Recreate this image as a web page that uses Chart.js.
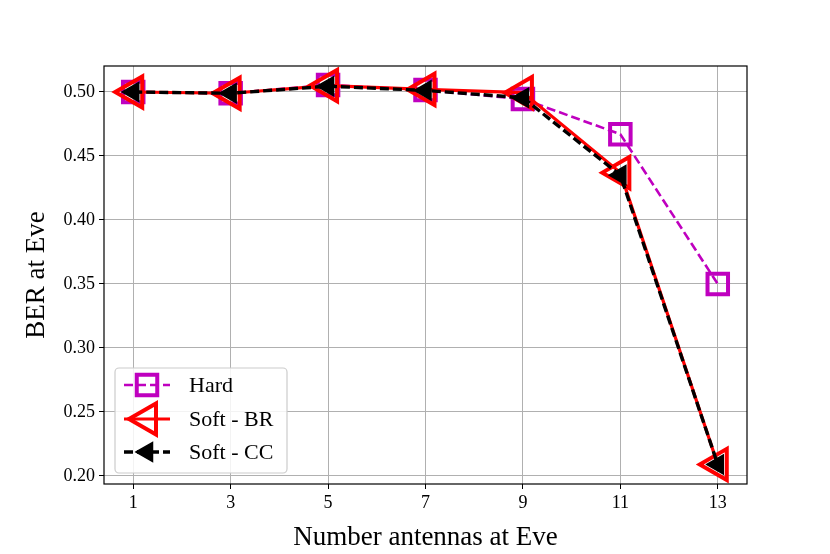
<!DOCTYPE html>
<html>
<head>
<meta charset="utf-8">
<script src="https://cdn.jsdelivr.net/npm/chart.js@4.4.0/dist/chart.umd.min.js"></script>
<style>
html,body{margin:0;padding:0;background:#fff;}
#wrap{width:830px;height:554px;}
</style>
</head>
<body>
<div id="wrap"><canvas id="c" width="830" height="554"></canvas></div>
<script>
const antennas = [1, 3, 5, 7, 9, 11, 13];
const hard   = [0.500, 0.499, 0.5055, 0.5015, 0.4945, 0.467, 0.350];
const softBR = [0.500, 0.499, 0.505, 0.502, 0.4995, 0.437, 0.209];
const softCC = [0.500, 0.499, 0.5045, 0.5012, 0.4955, 0.435, 0.209];
const xTicks = [1, 3, 5, 7, 9, 11, 13];
const yTicks = [0.20, 0.25, 0.30, 0.35, 0.40, 0.45, 0.50];
const seriesNames = ['Hard', 'Soft - BR', 'Soft - CC'];

const SERIF = '"Liberation Serif", "DejaVu Serif", serif';
const MAG = '#bf00bf';

function pts(arr){ return antennas.map((x,i)=>({x:x, y:arr[i]})); }

const frame = {
  id:'frame',
  afterDatasetsDraw(chart){
    const {ctx, chartArea:a} = chart;
    ctx.save();
    ctx.strokeStyle = '#000';
    ctx.lineWidth = 1.2;
    ctx.strokeRect(a.left, a.top, a.right-a.left, a.bottom-a.top);
    ctx.restore();
  }
};

function drawMarker(ctx, style, x, y, r, stroke, fill, bw){
  ctx.save();
  ctx.beginPath();
  if(style==='rect'){
    const s = r*Math.SQRT1_2;
    ctx.rect(x-s, y-s, 2*s, 2*s);
  } else {
    for(let k=0;k<3;k++){
      const ang = -Math.PI/2 + k*2*Math.PI/3;
      const px = x + Math.sin(ang)*r, py = y - Math.cos(ang)*r;
      if(k===0) ctx.moveTo(px,py); else ctx.lineTo(px,py);
    }
    ctx.closePath();
  }
  if(fill){ ctx.fillStyle = fill; ctx.fill(); }
  ctx.lineWidth = bw; ctx.strokeStyle = stroke; ctx.lineJoin='miter'; ctx.stroke();
  ctx.restore();
}

const legendPlugin = {
  id:'customLegend',
  afterDraw(chart){
    const ctx = chart.ctx;
    const L = 115, T = 368, W = 172, H = 105;
    ctx.save();
    ctx.beginPath();
    if (ctx.roundRect) ctx.roundRect(L, T, W, H, 4); else ctx.rect(L,T,W,H);
    ctx.fillStyle = 'rgba(255,255,255,0.85)';
    ctx.fill();
    ctx.strokeStyle = '#cccccc';
    ctx.lineWidth = 1.2;
    ctx.stroke();
    const rows = [385, 419, 452];
    const specs = [
      {color:MAG, dash:[9,4], lw:2.6, style:'rect', r:14.5, fill:null, stroke:MAG, bw:4},
      {color:'red', dash:[], lw:3.2, style:'triangle', r:18, fill:null, stroke:'red', bw:4},
      {color:'#000', dash:[9,4], lw:3.4, style:'triangle', r:11, fill:'#000', stroke:'#000', bw:1.5},
    ];
    specs.forEach((s,i)=>{
      const y = rows[i];
      ctx.save();
      ctx.beginPath();
      ctx.setLineDash(s.dash);
      ctx.strokeStyle = s.color; ctx.lineWidth = s.lw;
      ctx.moveTo(124, y); ctx.lineTo(170, y);
      ctx.stroke();
      ctx.restore();
      drawMarker(ctx, s.style, 147, y, s.r, s.stroke, s.fill, s.bw);
      ctx.save();
      ctx.fillStyle = '#000';
      ctx.font = '22px ' + SERIF;
      ctx.textBaseline = 'middle';
      ctx.fillText(seriesNames[i], 189, y+1);
      ctx.restore();
    });
    ctx.restore();
  }
};

new Chart(document.getElementById('c'), {
  type:'line',
  data:{
    datasets:[
      {label:seriesNames[0], order:3, data:pts(hard), borderColor:MAG, borderWidth:2.6, borderDash:[9,4],
       pointStyle:'rect', pointRadius:14.5, pointBorderWidth:4, pointBorderColor:MAG,
       pointBackgroundColor:'rgba(0,0,0,0)', fill:false, tension:0},
      {label:seriesNames[1], order:2, data:pts(softBR), borderColor:'red', borderWidth:3.2,
       pointStyle:'triangle', pointRotation:-90, pointRadius:18, pointBorderWidth:4, pointBorderColor:'red',
       pointBackgroundColor:'rgba(0,0,0,0)', fill:false, tension:0},
      {label:seriesNames[2], order:1, data:pts(softCC), borderColor:'#000', borderWidth:3.4, borderDash:[9,4],
       pointStyle:'triangle', pointRotation:-90, pointRadius:11, pointBorderWidth:1.5, pointBorderColor:'#000',
       pointBackgroundColor:'#000', fill:false, tension:0},
    ]
  },
  options:{
    responsive:false,
    animation:false,
    devicePixelRatio:1,
    layout:{padding:{left:0, right:83, top:66, bottom:0}},
    plugins:{legend:{display:false}, tooltip:{enabled:false}},
    scales:{
      x:{
        type:'linear', min:0.4, max:13.6,
        afterBuildTicks(s){ s.ticks = xTicks.map(v=>({value:v})); },
        afterFit(s){ s.height = 70; },
        grid:{color:'#b0b0b0', lineWidth:1, tickColor:'#000', tickLength:5, drawTicks:true},
        border:{display:false},
        ticks:{color:'#000', font:{family:SERIF, size:18}, padding:3, maxRotation:0,
               callback:(v)=>String(v)},
        title:{display:true, text:'Number antennas at Eve', color:'#000',
               font:{family:SERIF, size:27}, padding:{top:4, bottom:0}}
      },
      y:{
        type:'linear', min:0.19375, max:0.5203,
        afterBuildTicks(s){ s.ticks = yTicks.map(v=>({value:v})); },
        afterFit(s){ s.width = 104; },
        grid:{color:'#b0b0b0', lineWidth:1, tickColor:'#000', tickLength:5, drawTicks:true},
        border:{display:false},
        ticks:{color:'#000', font:{family:SERIF, size:18}, padding:4,
               callback:(v)=>Number(v).toFixed(2)},
        title:{display:true, text:'BER at Eve', color:'#000',
               font:{family:SERIF, size:27}, padding:{top:21, bottom:0}}
      }
    }
  },
  plugins:[frame, legendPlugin]
});
</script>
</body>
</html>
